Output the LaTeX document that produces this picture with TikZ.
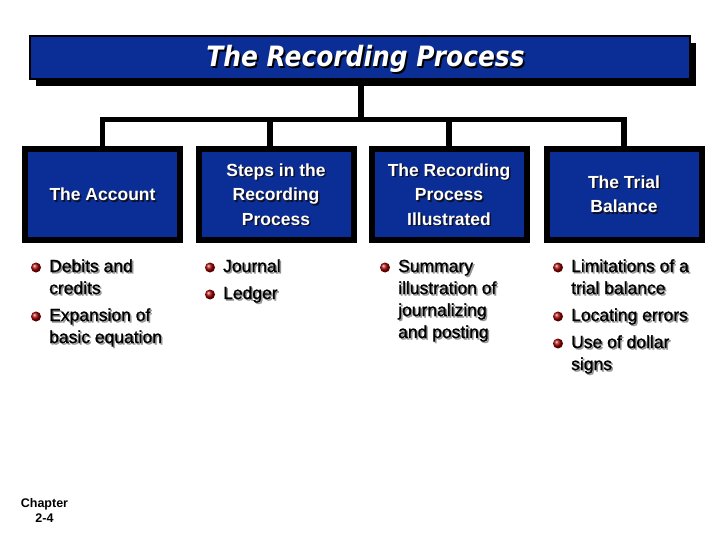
\documentclass[tikz,border=0pt]{standalone}
\usepackage{fontspec}
\usepackage{graphicx}
\setmainfont{Liberation Sans}
\newfontfamily\titlefont{DejaVu Sans}
\newfontfamily\itemfont[FakeBold=1.2]{Liberation Sans}
\usetikzlibrary{shadows}
\definecolor{boxblue}{RGB}{10,46,150}
\definecolor{bulred}{RGB}{160,0,0}
\definecolor{itemshadow}{RGB}{150,150,150}
\definecolor{boxshadow}{RGB}{15,15,35}
% shadowed text: #1 column spec, #2 text colour, #3 shadow colour, #4 offset, #5 lines
\newcommand\shtx[5]{\leavevmode\rlap{\kern#4\raisebox{-#4}{\color{#3}\begin{tabular}[t]{@{}#1@{}}#5\end{tabular}}}{\color{#2}\begin{tabular}[t]{@{}#1@{}}#5\end{tabular}}}
\begin{document}
\begin{tikzpicture}[x=1pt,y=-1pt,
  titlebox/.style={draw=black, line width=2pt, fill=boxblue, minimum width=660pt, minimum height=43pt,
    inner sep=0pt, text height=25pt, text depth=6pt,
    drop shadow={shadow xshift=6pt, shadow yshift=-7pt, fill=black, opacity=1},
    font=\fontsize{28}{32}\selectfont\titlefont\bfseries\itshape},
  topic/.style={draw=black, line width=6pt, fill=boxblue, minimum width=155pt, minimum height=91pt,
    inner sep=0pt, text height=21pt, font=\fontsize{17.5}{24.5}\selectfont\bfseries},
  itemtext/.style={anchor=base west, inner sep=0pt, font=\fontsize{17.5}{22}\selectfont\itemfont},
  bul/.style={circle, inner sep=0pt, minimum size=10pt, shading=ball, ball color=bulred},
  conn/.style={line width=5.5pt, line join=miter, line cap=rect},
  chap/.style={anchor=base, inner sep=0pt, font=\fontsize{12.5}{15}\selectfont\bfseries}]
\useasboundingbox (0,0) rectangle (720,540);
\fill[white] (0,0) rectangle (720,540);

% title
\node[titlebox] (title) at (360,57.5)
  {\hspace*{11pt}\scalebox{0.89}[1]{\shtx{c}{white}{black}{2pt}{The Recording Process}}};

% topic boxes
\node[topic] (b1) at (102.5,194.5) {\shtx{c}{white}{boxshadow}{1.5pt}{The Account}};
\node[topic] (b2) at (276,194.5) {\shtx{c}{white}{boxshadow}{1.5pt}{Steps in the\\Recording\\Process}};
\node[topic] (b3) at (449,194.5) {\shtx{c}{white}{boxshadow}{1.5pt}{The Recording\\Process\\Illustrated}};
\node[topic] (b4) at (624,194.5) {\shtx{c}{white}{boxshadow}{1.5pt}{The Trial\\Balance}};

% connectors
\coordinate (bus) at (361,119.5);
\draw[conn, line cap=butt] (title.south -| bus) -- (bus);
\draw[conn] (b1.north) |- (bus) -| (b4.north);
\draw[conn] ([xshift=-6pt]b2.north) -- ([xshift=-6pt]b2.north |- bus);
\draw[conn] (b3.north) -- (b3.north |- bus);

% bullet items
\node[itemtext] (i11) at (49,272) {\shtx{l}{black}{itemshadow}{1.5pt}{Debits and\\credits}};
\node[itemtext] (i12) at (49,321) {\shtx{l}{black}{itemshadow}{1.5pt}{Expansion of\\basic equation}};
\node[itemtext] (i21) at (223,272) {\shtx{l}{black}{itemshadow}{1.5pt}{Journal}};
\node[itemtext] (i22) at (223,299) {\shtx{l}{black}{itemshadow}{1.5pt}{Ledger}};
\node[itemtext] (i31) at (398,272) {\shtx{l}{black}{itemshadow}{1.5pt}{Summary\\illustration of\\journalizing\\and posting}};
\node[itemtext] (i41) at (571,272) {\shtx{l}{black}{itemshadow}{1.5pt}{Limitations of a\\trial balance}};
\node[itemtext] (i42) at (571,321) {\shtx{l}{black}{itemshadow}{1.5pt}{Locating errors}};
\node[itemtext] (i43) at (571,348) {\shtx{l}{black}{itemshadow}{1.5pt}{Use of dollar\\signs}};

\foreach \i in {i11,i12,i21,i22,i31,i41,i42,i43}
  \node[bul] (d\i) at ([xshift=-13pt,yshift=4.5pt]\i.base west) {};

% chapter
\node[chap] (chapter) at (44.5,507) {\begin{tabular}[t]{@{}c@{}}Chapter\\2-4\end{tabular}};
\end{tikzpicture}
\end{document}
